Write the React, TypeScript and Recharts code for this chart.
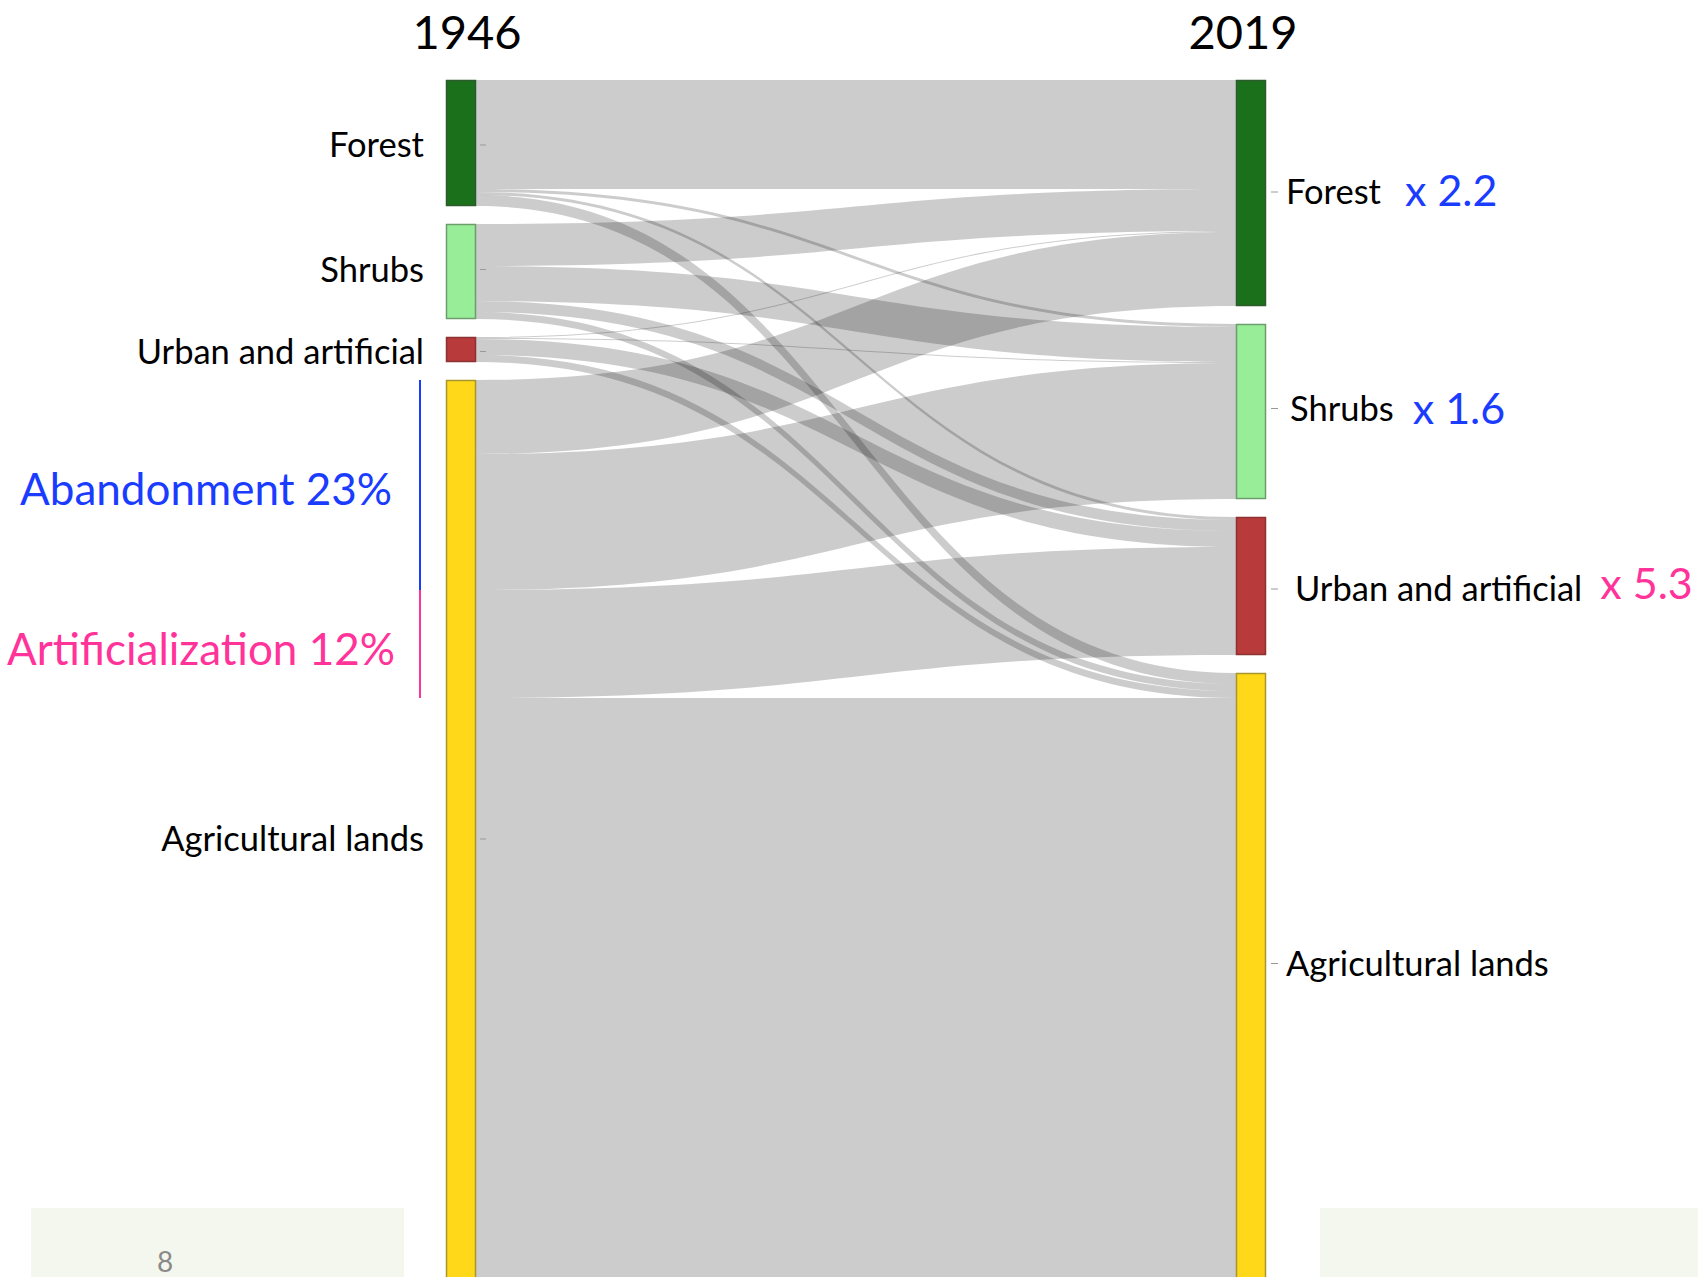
import React from 'react';
import { Sankey } from 'recharts';

// ---------- data ----------
const categories = ['Forest', 'Shrubs', 'Urban and artificial', 'Agricultural lands'];
const years = ['1946', '2019'];

// flows from each 1946 category towards the 2019 categories
// (order: Forest, Shrubs, Urban and artificial, Agricultural lands)
const fromForest = [109, 3, 3, 11];
const fromShrubs = [42, 35, 11, 7];
const fromUrban = [1, 1, 16, 7];
const fromAgri = [74, 136, 108, 588];

const changeLabels = ['x 2.2', 'x 1.6', 'x 5.3', ''];
const agriAnnotations = ['Abandonment 23%', 'Artificialization 12%'];
const pageNumber = '8';

// ---------- styles ----------
const nodeColors = ['#1b701b', '#98ee98', '#b83a3a', '#ffd81a'];
const nodeBorders = ['#2d5b2d', '#6d9d6d', '#8d3232', '#a8962c'];
const changeColors = ['#1a3cff', '#1a3cff', '#ff3399', '#000'];
const annotationColors = ['#1a3cff', '#ff3399'];
const FONT = 'Lato, "Open Sans", sans-serif';
const LABEL_SIZE = 34.5;

// small label nudges (px) per category, left and right columns
const leftLabelDy = [2, -2, 2, 6];
const rightLabelDy = [-1, -3, 3, -16];
const rightLabelDx = [0, 4, 9, 0];
const changeDx = [24, 19, 18, 0];
const changeDy = [2, 3, -2, 0];

const flows = [fromForest, fromShrubs, fromUrban, fromAgri];
const nodes = [
  ...categories.map((name) => ({ name })),
  ...categories.map((name) => ({ name })),
];
const links: { source: number; target: number; value: number }[] = [];
flows.forEach((row, i) =>
  row.forEach((v, j) => {
    if (v > 0) links.push({ source: i, target: categories.length + j, value: v });
  })
);
const data = { nodes, links };

const renderLink = (props: any) => {
  const { sourceX, sourceY, sourceControlX, targetX, targetY, targetControlX, linkWidth, index } = props;
  const h = linkWidth / 2;
  const d =
    `M${sourceX},${sourceY - h}` +
    `C${sourceControlX},${sourceY - h} ${targetControlX},${targetY - h} ${targetX},${targetY - h}` +
    `L${targetX},${targetY + h}` +
    `C${targetControlX},${targetY + h} ${sourceControlX},${sourceY + h} ${sourceX},${sourceY + h}Z`;
  return <path key={`link-${index}`} d={d} fill="#000" fillOpacity={0.2} stroke="none" />;
};

const renderNode = (props: any) => {
  const { x, y, width, height, index, payload } = props;
  const n = categories.length;
  const left = index < n;
  const cat = index % n;
  const cy = y + height / 2;
  const ky = height / payload.value;
  const parts: React.ReactNode[] = [];

  parts.push(
    <rect
      key="r"
      x={x + 0.5}
      y={y + 0.5}
      width={width - 1}
      height={height - 1}
      fill={nodeColors[cat]}
      stroke={nodeBorders[cat]}
      strokeWidth={1.5}
    />
  );

  if (cat === 0) {
    parts.push(
      <text
        key="yr"
        x={x + width / 2 + (left ? 6 : -8)}
        y={y - 31}
        textAnchor="middle"
        fontFamily={FONT}
        fontSize={47}
        fill="#000"
      >
        {years[left ? 0 : 1]}
      </text>
    );
  }

  if (left) {
    const ly = cy + leftLabelDy[cat];
    parts.push(
      <line key="tk" x1={x + width + 4} x2={x + width + 10} y1={ly} y2={ly} stroke="#999" strokeWidth={1} />
    );
    parts.push(
      <text
        key="lb"
        x={x - 22}
        y={ly}
        dy="0.36em"
        textAnchor="end"
        fontFamily={FONT}
        fontSize={LABEL_SIZE}
        fill="#000"
      >
        {categories[cat]}
      </text>
    );
    if (cat === 3) {
      const y1 = y + (fromAgri[0] + fromAgri[1]) * ky;
      const y2 = y1 + fromAgri[2] * ky;
      const lx = x - 26;
      parts.push(<line key="a1" x1={lx} x2={lx} y1={y} y2={y1} stroke={annotationColors[0]} strokeWidth={2} />);
      parts.push(<line key="a2" x1={lx} x2={lx} y1={y1} y2={y2} stroke={annotationColors[1]} strokeWidth={2} />);
      parts.push(
        <text key="t1" x={x - 54} y={(y + y1) / 2 + 4} dy="0.36em" textAnchor="end" fontFamily={FONT} fontSize={44} fill={annotationColors[0]}>
          {agriAnnotations[0]}
        </text>
      );
      parts.push(
        <text key="t2" x={x - 51} y={(y1 + y2) / 2 + 5} dy="0.36em" textAnchor="end" fontFamily={FONT} fontSize={44} fill={annotationColors[1]}>
          {agriAnnotations[1]}
        </text>
      );
    }
  } else {
    const ly = cy + rightLabelDy[cat];
    parts.push(
      <line key="tk" x1={x + width + 5} x2={x + width + 12} y1={ly} y2={ly} stroke="#999" strokeWidth={1} />
    );
    parts.push(
      <text
        key="lb"
        x={x + width + 20 + rightLabelDx[cat]}
        y={ly}
        dy="0.36em"
        textAnchor="start"
        fontFamily={FONT}
        fontSize={LABEL_SIZE}
        fill="#000"
      >
        <tspan>{categories[cat]}</tspan>
        {changeLabels[cat] ? (
          <tspan dx={changeDx[cat]} dy={changeDy[cat]} fontSize={43} fill={changeColors[cat]}>
            {changeLabels[cat]}
          </tspan>
        ) : null}
      </text>
    );
  }

  return <g key={`node-${index}`}>{parts}</g>;
};

export default function App() {
  return (
    <div
      style={{
        position: 'fixed',
        left: 0,
        top: 0,
        width: 1698,
        height: 1277,
        overflow: 'hidden',
        background: '#fff',
      }}
    >
      <div style={{ position: 'absolute', left: 31, top: 1208, width: 373, height: 80, background: '#f4f7ee' }}>
        <span
          style={{
            position: 'absolute',
            left: 126,
            top: 36,
            fontFamily: FONT,
            fontSize: 28,
            lineHeight: '34px',
            color: '#8a8a8a',
          }}
        >
          {pageNumber}
        </span>
      </div>
      <div style={{ position: 'absolute', left: 1320, top: 1208, width: 378, height: 80, background: '#f4f7ee' }} />
      <div style={{ position: 'absolute', left: 0, top: 0 }}>
        <Sankey
          width={1698}
          height={1290}
          data={data}
          nodeWidth={30}
          nodePadding={18}
          iterations={0}
          margin={{ top: 80, left: 446, right: 432, bottom: 4 }}
          link={renderLink}
          node={renderNode}
        />
      </div>
    </div>
  );
}
